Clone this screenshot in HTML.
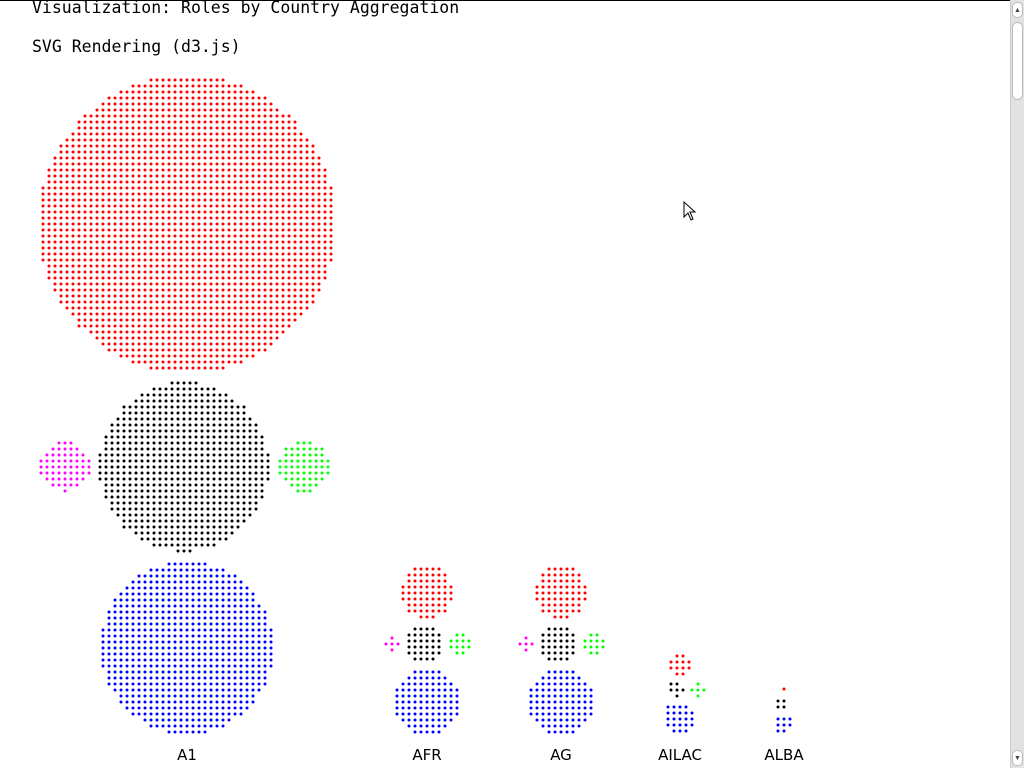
<!DOCTYPE html>
<html><head><meta charset="utf-8"><style>
html,body{margin:0;padding:0;background:#fff;width:1024px;height:768px;overflow:hidden;}
.t{position:absolute;left:32px;font-family:"DejaVu Sans Mono","Liberation Mono",monospace;font-size:16.5px;color:#000;white-space:nowrap;}
</style></head><body>
<div style="position:absolute;left:0;top:0;width:1010px;height:1px;background:#000"></div>
<div class="t" style="top:-2px">Visualization: Roles by Country Aggregation</div>
<div class="t" style="top:37px">SVG Rendering (d3.js)</div>
<svg id="chart" width="1008" height="768" style="position:absolute;left:0;top:0"></svg>
<div style="position:absolute;left:1010px;top:0;width:14px;height:768px;background:#e4e2e0;border-left:1px solid #ccc;box-sizing:border-box">
  <div style="position:absolute;left:1px;top:2px;width:11px;height:16px;background:#fff;border:1px solid #bbb;border-radius:5px;box-sizing:border-box;font-size:7px;text-align:center;line-height:14px;color:#444">▲</div>
  <div style="position:absolute;left:1px;top:22px;width:11px;height:78px;background:#fff;border:1px solid #bbb;border-radius:6px;box-sizing:border-box"></div>
  <div style="position:absolute;left:1px;top:750px;width:11px;height:16px;background:#fff;border:1px solid #bbb;border-radius:5px;box-sizing:border-box;font-size:7px;text-align:center;line-height:14px;color:#444">▼</div>
</div>
<svg style="position:absolute;left:683px;top:201px" width="14" height="22"><path d="M1 1 L1 16 L5 12 L8 19 L10 18 L7 11 L12 11 Z" fill="#fff" stroke="#000" stroke-width="1"/></svg>
<script>
const countries = ["A1","AFR","AG","AILAC","ALBA"];
const redCounts = [1930, 63, 63, 12, 1];
const blackCounts = [630, 32, 32, 6, 4];
const blueCounts = [660, 97, 97, 22, 8];
const magentaCounts = [55, 5, 5, 0, 0];
const greenCounts = [59, 12, 12, 5, 0];
const columnX = [187, 427, 561, 680, 784];

const NS = "http://www.w3.org/2000/svg";
const svg = document.getElementById("chart");
const SP = 6, BOTTOM = 735;
function rad(n){ return n>0 ? Math.sqrt(n*SP*SP/Math.PI) : 0; }
function gapFor(r){ return r>50 ? 9 : 5; }
function grid(n, off){
  const R = Math.ceil(Math.sqrt(n))+2;
  const pts=[];
  for(let i=-R;i<=R;i++)for(let j=-R;j<=R;j++){
    const x=i*SP+off, y=j*SP+off;
    pts.push([x,y,x*x+y*y]);
  }
  pts.sort((a,b)=>a[2]-b[2] || a[1]-b[1] || a[0]-b[0]);
  return pts;
}
function dots(g, n, cx, cy, color){
  if(n<=0) return;
  cx=Math.round(cx); cy=Math.round(cy);
  const a=grid(n,0), b=grid(n,SP/2);
  const cleanA = a[n][2]-a[n-1][2] > 0.01;
  const cleanB = b[n][2]-b[n-1][2] > 0.01;
  const pts = (cleanB && !cleanA) ? b : a;
  for(let k=0;k<n;k++){
    const c=document.createElementNS(NS,"circle");
    
    
    c.setAttribute("cx",cx+pts[k][0]);c.setAttribute("cy",cy+pts[k][1]);
    c.setAttribute("r",1.5);c.setAttribute("fill",color);
    g.appendChild(c);
  }
}
countries.forEach((name,i)=>{
  const g=document.createElementNS(NS,"g");
  
  
  svg.appendChild(g);
  const cx=columnX[i];
  const rb=rad(blueCounts[i]), rk=rad(blackCounts[i]), rr=rad(redCounts[i]);
  const rm=rad(magentaCounts[i]), rg=rad(greenCounts[i]);
  const GAP=gapFor(rk);
  const by=BOTTOM-rb;
  const ky=by-rb-GAP-rk;
  const ry=ky-rk-GAP-rr;
  dots(g,blueCounts[i],cx,by,"#0000ff");
  dots(g,blackCounts[i],cx-3,ky,"#000000");
  dots(g,redCounts[i],cx,ry,"#ff0000");
  dots(g,magentaCounts[i],cx-3-rk-GAP-rm,ky,"#ff00ff");
  dots(g,greenCounts[i],cx-3+rk+GAP+rg,ky,"#00ff00");
  const t=document.createElementNS(NS,"text");
  
  
  t.setAttribute("x",cx);t.setAttribute("y",760);
  t.setAttribute("text-anchor","middle");
  t.setAttribute("font-family","DejaVu Sans, Liberation Sans, sans-serif");
  t.setAttribute("font-size","15");
  t.textContent=name;
  g.appendChild(t);
});
</script>
</body></html>
